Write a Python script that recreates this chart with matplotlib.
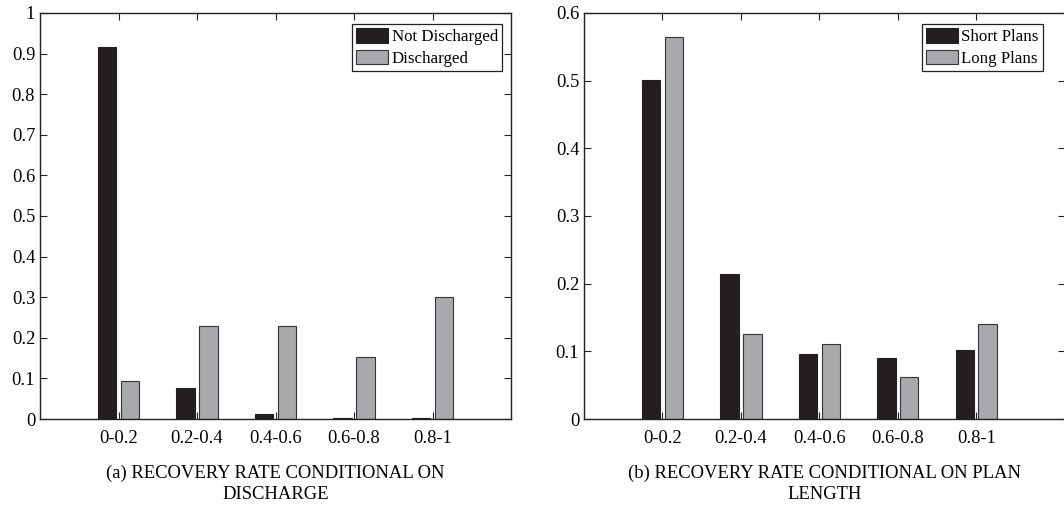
import matplotlib.pyplot as plt
import numpy as np

plt.rcParams['font.family'] = ['Liberation Serif', 'DejaVu Serif']

categories = ['0-0.2', '0.2-0.4', '0.4-0.6', '0.6-0.8', '0.8-1']

# (a) discharge
not_discharged = [0.916, 0.076, 0.012, 0.002, 0.002]
discharged = [0.094, 0.229, 0.229, 0.152, 0.300]

# (b) plan length
short_plans = [0.501, 0.215, 0.096, 0.090, 0.102]
long_plans = [0.564, 0.125, 0.111, 0.062, 0.141]

dark = '#231f20'
grey = '#a7a9ac'

W, H = 1064, 505
fig = plt.figure(figsize=(W / 100, H / 100), dpi=100)
ax1 = fig.add_axes([40 / W, 1 - 419 / H, 471 / W, 406 / H])
ax2 = fig.add_axes([584 / W, 1 - 419 / H, 481 / W, 406 / H])

x = np.arange(1, len(categories) + 1)
off = 0.145
bw = 0.235


def draw(ax, s1, s2, labels, ylim, yticks, caption, xmax, leg_xy):
    ax.bar(x - off, s1, bw, color=dark, edgecolor=dark, linewidth=0.8, label=labels[0])
    ax.bar(x + off, s2, bw, color=grey, edgecolor='#333333', linewidth=0.8, label=labels[1])
    ax.set_xlim(0, xmax)
    ax.set_ylim(*ylim)
    ax.set_xticks(x)
    ax.set_xticklabels(categories)
    ax.set_yticks(yticks)
    ax.set_yticklabels([f'{t:g}' for t in yticks])
    ax.tick_params(direction='in', top=True, right=True, length=5, width=0.8,
                   color='#222222', labelsize=13.3)
    ax.tick_params(axis='x', pad=8)
    for s in ax.spines.values():
        s.set_linewidth(1.0)
        s.set_color('#222222')
    leg = ax.legend(loc='upper right', bbox_to_anchor=(leg_xy[0] / W, 1 - leg_xy[1] / H),
                    bbox_transform=fig.transFigure, fancybox=False, framealpha=1,
                    edgecolor='#222222', handlelength=1.9, handleheight=0.95,
                    handletextpad=0.2, borderpad=0.25, labelspacing=0.25,
                    borderaxespad=0, fontsize=12.2)
    leg.get_frame().set_linewidth(0.9)
    ax.set_xlabel(caption, fontsize=13.4, labelpad=13, linespacing=1.25)


draw(ax1, not_discharged, discharged, ['Not Discharged', 'Discharged'],
     (0, 1), np.round(np.arange(0, 1.01, 0.1), 1),
     '(a) RECOVERY RATE CONDITIONAL ON\nDISCHARGE', 6, (502, 24))
draw(ax2, short_plans, long_plans, ['Short Plans', 'Long Plans'],
     (0, 0.6), np.round(np.arange(0, 0.61, 0.1), 1),
     '(b) RECOVERY RATE CONDITIONAL ON PLAN\nLENGTH', 6.13, (1043, 24))

fig.savefig('out.png', dpi=100)
